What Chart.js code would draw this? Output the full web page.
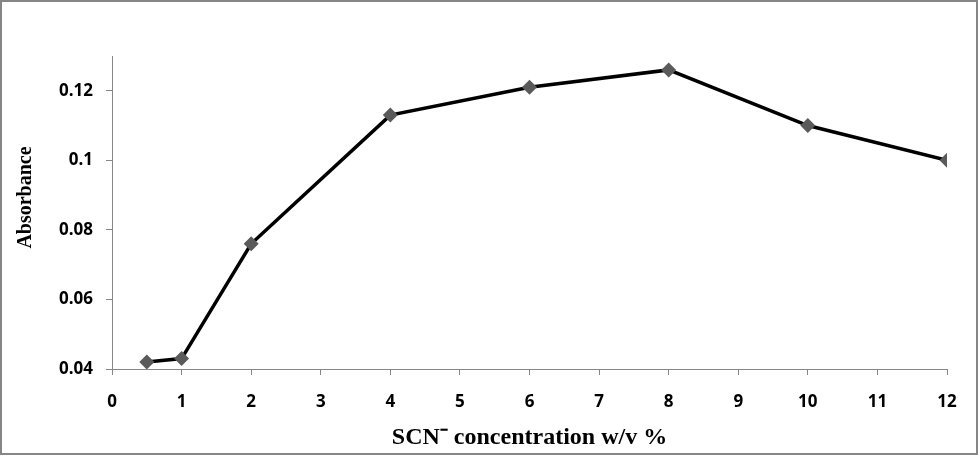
<!DOCTYPE html>
<html>
<head>
<meta charset="utf-8">
<script src="https://cdn.jsdelivr.net/npm/chart.js@4"></script>
<style>
  body { margin: 0; background: #fff; }
  canvas { display: block; }
</style>
</head>
<body>
<canvas id="chart" width="978" height="456"></canvas>
<script>
// values
const concentrations = [0.5, 1, 2, 4, 6, 8, 10, 12];
const absorbance = [0.042, 0.043, 0.076, 0.113, 0.121, 0.126, 0.110, 0.100];
const yTickValues = [0.04, 0.06, 0.08, 0.1, 0.12];
const xTickValues = [0, 1, 2, 3, 4, 5, 6, 7, 8, 9, 10, 11, 12];
const xTitle = 'SCN\u207B concentration w/v %';
const yTitle = 'Absorbance';

const axisGrey = '#868686';
const tickFont = { family: '"Open Sans", sans-serif', size: 17, weight: 'bold' };
const titleFamily = '"Liberation Serif", "Times New Roman", serif';

// grey outer frame + y title (sits a bit above the plot's middle in the original)
const frame = {
  id: 'frame',
  afterDraw(chart) {
    const ctx = chart.ctx;
    ctx.save();
    ctx.strokeStyle = axisGrey;
    ctx.lineWidth = 2;
    ctx.strokeRect(1, 1, chart.width - 2, chart.height - 3);

    ctx.translate(25.5, chart.chartArea.top + (chart.chartArea.bottom - chart.chartArea.top) / 2 - 15);
    ctx.rotate(-Math.PI / 2);
    ctx.font = 'bold 20px ' + titleFamily;
    ctx.fillStyle = '#000';
    ctx.textAlign = 'center';
    ctx.textBaseline = 'middle';
    ctx.fillText(yTitle, 0, 0);
    ctx.restore();
  }
};

const ctx = document.getElementById('chart').getContext('2d');
new Chart(ctx, {
  type: 'line',
  data: {
    datasets: [{
      data: concentrations.map((c, i) => ({ x: c, y: absorbance[i] })),
      borderColor: '#000',
      borderWidth: 3.5,
      tension: 0,
      pointStyle: 'rectRot',
      pointRadius: 7.5,
      pointBorderWidth: 0,
      pointBackgroundColor: '#5a5a5a',
      pointBorderColor: '#5a5a5a'
    }]
  },
  options: {
    responsive: false,
    animation: false,
    layout: { padding: { top: 56, right: 31, left: 0, bottom: 0 } },
    plugins: { legend: { display: false }, tooltip: { enabled: false } },
    scales: {
      x: {
        type: 'linear',
        min: 0,
        max: 12,
        afterBuildTicks: s => { s.ticks = xTickValues.map(v => ({ value: v })); },
        afterFit: s => { s.height = 87; },
        ticks: { color: '#000', font: tickFont, padding: 17, maxRotation: 0 },
        grid: { drawOnChartArea: false, drawTicks: true, tickLength: 6, color: axisGrey },
        border: { color: axisGrey, width: 1 },
        title: {
          display: true,
          text: xTitle,
          color: '#000',
          font: { family: titleFamily, size: 24, weight: 'bold', lineHeight: 1.2 },
          padding: { top: 0, bottom: 4 }
        }
      },
      y: {
        min: 0.04,
        max: 0.13,
        afterBuildTicks: s => { s.ticks = yTickValues.map(v => ({ value: v })); },
        afterFit: s => { s.width = 112; },
        ticks: {
          color: '#000',
          font: tickFont,
          padding: 13,
          callback: v => String(+v.toFixed(2))
        },
        grid: { drawOnChartArea: false, drawTicks: true, tickLength: 6, color: axisGrey },
        border: { color: axisGrey, width: 1 },
        title: { display: false }
      }
    }
  },
  plugins: [frame]
});
</script>
</body>
</html>
